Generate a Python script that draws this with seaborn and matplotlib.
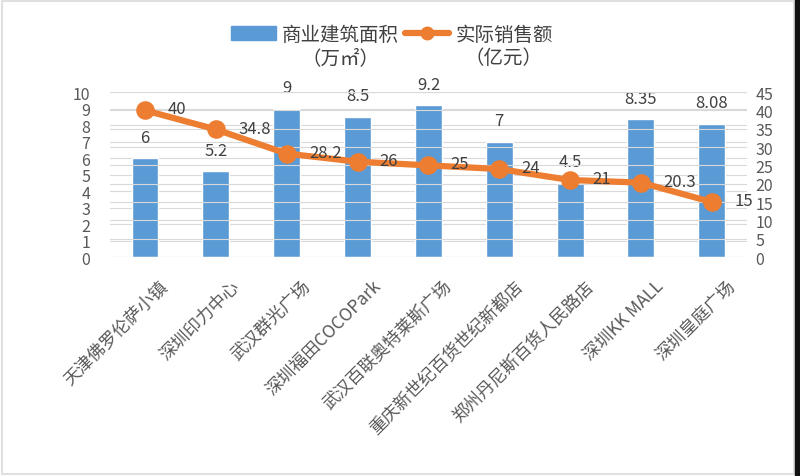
import numpy as np
import pandas as pd
import matplotlib
matplotlib.use('Agg')
import matplotlib.pyplot as plt
import matplotlib.transforms as mtransforms
import seaborn as sns
from matplotlib.patches import Rectangle

# Data
stores = ['天津佛罗伦萨小镇', '深圳印力中心', '武汉群光广场', '深圳福田COCOPark',
          '武汉百联奥特莱斯广场', '重庆新世纪百货世纪新都店', '郑州丹尼斯百货人民路店',
          '深圳KK MALL', '深圳皇庭广场']
area = [6, 5.2, 9, 8.5, 9.2, 7, 4.5, 8.35, 8.08]
sales = [40, 34.8, 28.2, 26, 25, 24, 21, 20.3, 15]
area_labels = ['6', '5.2', '9', '8.5', '9.2', '7', '4.5', '8.35', '8.08']
sales_labels = ['40', '34.8', '28.2', '26', '25', '24', '21', '20.3', '15']
legend_names = ['商业建筑面积', '实际销售额']
legend_units = ['（万㎡）', '（亿元）']

df = pd.DataFrame({'store': stores, 'area': area, 'sales': sales})

sns.set_style('white')
plt.rcParams['font.family'] = ['Noto Sans CJK SC', 'DejaVu Sans']

bar_color = '#5B9BD5'
line_color = '#ED7D31'
text_color = '#404040'
grid_color = '#D9D9D9'

fig = plt.figure(figsize=(8, 4.77), dpi=100)
ax = fig.add_axes([0.137, 0.459, 0.797, 0.346])

sns.barplot(data=df, x='store', y='area', color=bar_color, width=0.38,
            saturation=1, ax=ax, zorder=2)
ax.set_ylim(0, 10)
ax.set_yticks(range(0, 11))
ax.yaxis.grid(True, color=grid_color, linewidth=0.8, zorder=0)
ax.set_axisbelow(True)
ax.set_xlabel('')
ax.set_ylabel('')
for s in ax.spines.values():
    s.set_visible(False)
ax.tick_params(axis='both', length=0, colors='#595959', labelsize=11.5)
ax.tick_params(axis='y', pad=14)
ax.set_xticks(range(len(stores)))
ax.set_xticklabels(stores, rotation=45, ha='right', rotation_mode='anchor',
                   fontsize=12.5, color='#595959')
ax.tick_params(axis='x', pad=14)
# nudge the slanted labels a little to the right, like the original
shift = mtransforms.ScaledTranslation(14 / 100, 0, fig.dpi_scale_trans)
for lab in ax.get_xticklabels():
    lab.set_transform(lab.get_transform() + shift)
ax.bar_label(ax.containers[0], labels=area_labels, padding=9,
             fontsize=12, color=text_color)

ax2 = ax.twinx()
sns.pointplot(data=df, x='store', y='sales', color=line_color, ax=ax2,
              markers='o', markersize=10, linewidth=4.5, zorder=3)
ax2.set_ylim(0, 45)
ax2.set_yticks(range(0, 46, 5))
ax2.yaxis.grid(True, color=grid_color, linewidth=0.8, zorder=0)
ax2.set_ylabel('')
ax2.set_xlabel('')
for s in ax2.spines.values():
    s.set_visible(False)
ax2.tick_params(axis='y', length=0, colors='#595959', labelsize=11.5, pad=6)
ax2.set_xlim(-0.5, len(stores) - 0.5)
for i, (v, lab) in enumerate(zip(sales, sales_labels)):
    ax2.annotate(lab, (i, v), xytext=(16, 1), textcoords='offset points',
                 ha='left', va='center', fontsize=12, color=text_color)

# Legend (first line in the legend, unit line centred beneath)
h_bar = Rectangle((0, 0), 1, 1, color=bar_color)
h_line = plt.Line2D([], [], color=line_color, linewidth=4.5, marker='o',
                    markersize=9)
leg = fig.legend([h_bar, h_line], legend_names,
                 loc='upper center', bbox_to_anchor=(0.49, 0.985), ncol=2,
                 frameon=False, fontsize=14, handlelength=2.3,
                 handletextpad=0.3, columnspacing=0.3, labelcolor='#404040')

fig.canvas.draw()
inv = fig.transFigure.inverted()
for t, unit in zip(leg.get_texts(), legend_units):
    bb = t.get_window_extent()
    (x0, y0), (x1, y1) = inv.transform([[bb.x0, bb.y0], [bb.x1, bb.y1]])
    fig.text((x0 + x1) / 2, y0 - 0.005, unit, ha='center', va='top',
             fontsize=14, color='#404040')

# Image frame
fig.patches.append(Rectangle((0.003, 0.004), 0.99, 0.992, transform=fig.transFigure,
                             fill=False, edgecolor='#E0E0E0', linewidth=1.5))
fig.patches.append(Rectangle((0.994, 0), 0.006, 1, transform=fig.transFigure,
                             color='#111111'))

fig.savefig('out.png', dpi=100)
